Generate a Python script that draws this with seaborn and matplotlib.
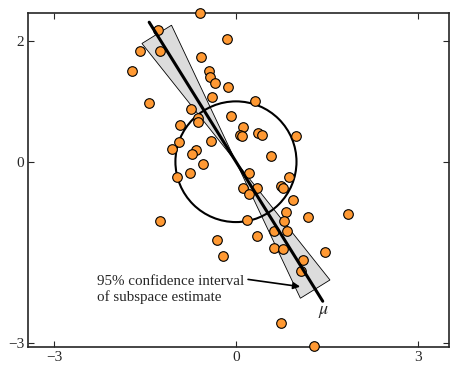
import matplotlib
matplotlib.use("Agg")
import matplotlib.pyplot as plt
import numpy as np
import pandas as pd
import seaborn as sns
from matplotlib.patches import Circle, Polygon

x_vals = [-0.59, -1.28, -1.59, -1.26, -1.71, -0.57, -0.45, -0.43, -0.34, -0.14,
          -0.13, -1.44, -0.40, 0.31, -0.74, -0.62, -0.63, -0.92, -0.09, 0.12,
          0.07, 0.10, 0.36, 0.43, 0.99, -0.94, -0.41, -1.06, -0.66, -0.72,
          0.58, -0.54, -0.76, -0.98, 0.22, 0.88, 0.12, 0.34, 0.21, 0.74,
          0.78, 0.94, 0.82, 1.19, 1.85, 0.18, 0.80, 0.63, 0.85, 0.35,
          -0.31, 0.63, 0.78, 1.47, -0.21, 1.11, 1.07, -1.25, 0.74, 1.29]
y_vals = [2.46, 2.19, 1.84, 1.84, 1.50, 1.74, 1.50, 1.40, 1.31, 2.04,
          1.24, 0.98, 1.07, 1.00, 0.88, 0.72, 0.66, 0.61, 0.75, 0.58,
          0.44, 0.43, 0.48, 0.45, 0.43, 0.33, 0.35, 0.21, 0.19, 0.13,
          0.09, -0.04, -0.19, -0.26, -0.18, -0.26, -0.44, -0.44, -0.54, -0.41,
          -0.44, -0.63, -0.83, -0.91, -0.86, -0.97, -0.99, -1.14, -1.15, -1.23,
          -1.30, -1.43, -1.45, -1.50, -1.57, -1.63, -1.81, -0.98, -2.67, -3.05]

# estimated subspace direction and its 95% interval
subspace_angle_deg = 121.8
ci_half_deg = 6.6
wedge_radius = 2.5
line_half_length = 2.72
circle_radius = 1.0

x_ticks = [-3, 0, 3]
y_ticks = [-3, 0, 2]
x_tick_labels = ["\u22123", "0", "3"]
y_tick_labels = ["\u22123", "0", "2"]

sns.set_style("ticks")
plt.rcParams["font.family"] = ["Liberation Serif", "DejaVu Serif"]
plt.rcParams["mathtext.fontset"] = "stix"

fig = plt.figure(figsize=(4.5, 3.67), dpi=100)
ax = fig.add_axes([0.0629, 0.0545, 0.935, 0.911])

# confidence wedge (two opposite triangles)
a = np.deg2rad(subspace_angle_deg)
h = np.deg2rad(ci_half_deg)
for sgn in (1, -1):
    p1 = sgn * wedge_radius * np.array([np.cos(a - h), np.sin(a - h)])
    p2 = sgn * wedge_radius * np.array([np.cos(a + h), np.sin(a + h)])
    ax.add_patch(Polygon([[0, 0], p1, p2], closed=True, facecolor="#dcdcdc",
                         edgecolor="black", linewidth=0.6, zorder=1))

ax.add_patch(Circle((0, 0), circle_radius, fill=False, edgecolor="black",
                    linewidth=1.5, zorder=2))

df = pd.DataFrame({"x": x_vals, "y": y_vals})
sns.scatterplot(data=df, x="x", y="y", ax=ax, s=48, color="#ff9933",
                edgecolor="black", linewidth=0.8, zorder=3, clip_on=False)

t = np.array([-line_half_length, line_half_length])
line_df = pd.DataFrame({"x": t * np.cos(a), "y": t * np.sin(a)})
sns.lineplot(data=line_df, x="x", y="y", ax=ax, color="black", linewidth=2.2,
             sort=False, zorder=4)

ax.text(-2.30, -2.11, "95% confidence interval\nof subspace estimate",
        fontsize=10.8, ha="left", va="center", linespacing=1.2)
ax.annotate("", xy=(1.06, -2.07), xytext=(0.20, -1.95),
            arrowprops=dict(arrowstyle="-|>", color="black", lw=1.2,
                            mutation_scale=10, shrinkA=0, shrinkB=0))
ax.text(1.45, -2.49, r"$\mu$", fontsize=13, ha="center", va="center")

ax.set_xlim(-3.43, 3.52)
ax.set_ylim(-3.07, 2.47)
ax.set_xticks(x_ticks)
ax.set_xticklabels(x_tick_labels)
ax.set_yticks(y_ticks)
ax.set_yticklabels(y_tick_labels)
ax.set_xlabel("")
ax.set_ylabel("")
ax.tick_params(direction="in", top=True, right=True, length=4, width=0.8,
               labelsize=11, pad=3)
for sp in ax.spines.values():
    sp.set_linewidth(1.2)

fig.savefig("out.png", dpi=100)
